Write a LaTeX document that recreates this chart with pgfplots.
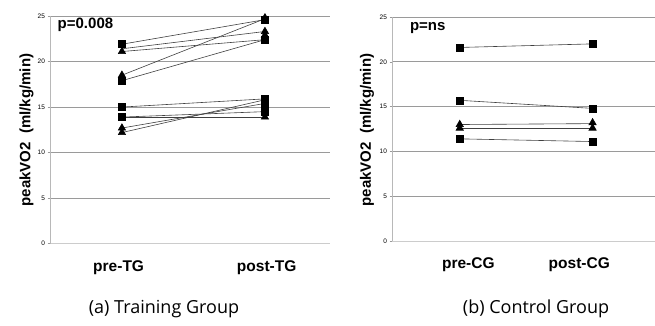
\documentclass[border=0pt]{standalone}
\usepackage{fontspec}
\setmainfont{Liberation Sans}
\newfontfamily\capfont{Open Sans}
\usepackage{pgfplots}
\pgfplotsset{compat=1.18}
\definecolor{gridc}{HTML}{9A9A9A}
\definecolor{linec}{HTML}{404040}
\pgfplotsset{
  panel/.style={
    scale only axis,
    ymin=0, ymax=25,
    ytick={0,5,10,15,20,25},
    axis x line*=bottom,
    axis y line*=left,
    x axis line style={draw=gridc!50},
    y axis line style={draw=gridc!70},
    ymajorgrids,
    major grid style={draw=gridc, line width=0.7pt},
    tick align=outside,
    major tick length=2.5pt,
    xtick style={draw=none},
    ytick style={draw=gridc, line width=0.5pt},
    /pgf/number format/assume math mode=true,
    yticklabel style={font=\fontsize{6.5}{7}\selectfont, xshift=1pt},
    xticklabel style={font=\fontsize{15.5}{16}\bfseries, yshift=-11pt},
    every axis plot/.append style={line width=0.6pt, draw=linec},
  },
  sq/.style={only marks, mark=square*, mark size=3.5pt, mark options={fill=black, draw=black}},
  tri/.style={only marks, mark=triangle*, mark size=4.2pt, mark options={fill=black, draw=black}},
}
\begin{document}
\begin{tikzpicture}
\useasboundingbox (0pt,0pt) rectangle (655pt,326pt);
% ---------------- left panel ----------------
\begin{axis}[panel, at={(50pt,82.3pt)}, anchor=south west, width=280pt, height=227.7pt,
  xmin=0.497, xmax=2.455, xtick={0.977,2.012}, xticklabels={pre-TG,post-TG}]
\addplot[no marks] coordinates {(1,21.9) (2,24.6)};
\addplot[no marks] coordinates {(1,21.4) (2,23.3)};
\addplot[no marks] coordinates {(1,21.1) (2,22.4)};
\addplot[no marks] coordinates {(1,18.5) (2,24.7)};
\addplot[no marks] coordinates {(1,17.9) (2,22.4)};
\addplot[no marks] coordinates {(1,15.0) (2,15.9)};
\addplot[no marks] coordinates {(1,13.9) (2,14.5)};
\addplot[no marks] coordinates {(1,13.9) (2,13.9)};
\addplot[no marks] coordinates {(1,12.7) (2,15.4)};
\addplot[no marks] coordinates {(1,12.2) (2,15.8)};
\addplot[tri] coordinates {(1,21.1) (1,18.5) (1,12.7) (1,12.2) (2,24.8) (2,23.3) (2,22.9) (2,13.9)};
\addplot[sq] coordinates {(1,21.9) (1,17.9) (1,15.0) (1,13.9) (2,24.6) (2,22.4) (2,15.9) (2,15.4) (2,14.5)};
\node[anchor=west, font=\fontsize{15}{16}\bfseries] at (rel axis cs:0.015,0.96) {p=0.008};
\end{axis}
% ---------------- right panel ----------------
\begin{axis}[panel, at={(392pt,85pt)}, anchor=south west, width=263pt, height=224pt,
  xmin=0.49, xmax=2.47, xtick={1.065,1.90}, xticklabels={pre-CG,post-CG}]
\addplot[no marks] coordinates {(1,21.6) (2,22.0)};
\addplot[no marks] coordinates {(1,15.7) (2,14.8)};
\addplot[no marks] coordinates {(1,13.0) (2,13.1)};
\addplot[no marks] coordinates {(1,12.6) (2,12.6)};
\addplot[no marks] coordinates {(1,11.4) (2,11.1)};
\addplot[tri] coordinates {(1,13.0) (1,12.6) (2,13.2) (2,12.6)};
\addplot[sq] coordinates {(1,21.6) (1,15.7) (1,11.4) (2,22.0) (2,14.8) (2,11.1)};
\node[anchor=west, font=\fontsize{15}{16}\bfseries] at (rel axis cs:0.055,0.95) {p=ns};
\end{axis}
% ---------------- labels ----------------
\node[rotate=90, font=\fontsize{15}{16}\bfseries] at (26.5pt,196pt) {peakVO2\ \ (ml/kg/min)};
\node[rotate=90, font=\fontsize{15}{16}\bfseries] at (367pt,196pt) {peakVO2\ \ (ml/kg/min)};
\node[font=\capfont\fontsize{18}{20}\selectfont] at (164pt,17pt) {(a) Training Group};
\node[font=\capfont\fontsize{18}{20}\selectfont] at (536pt,17pt) {(b) Control Group};
\end{tikzpicture}
\end{document}
